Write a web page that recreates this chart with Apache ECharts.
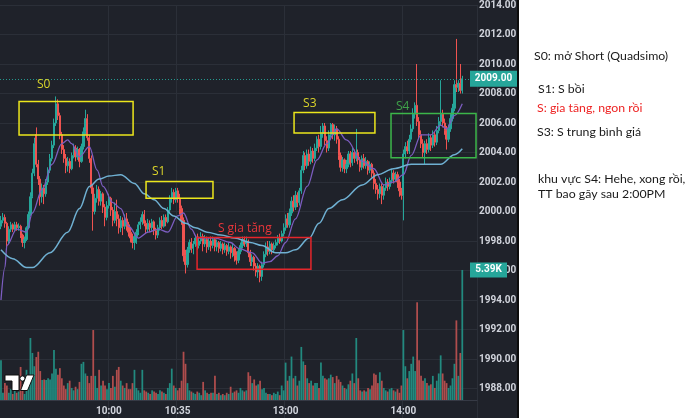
<!DOCTYPE html>
<html><head><meta charset="utf-8">
<script src="https://cdn.jsdelivr.net/npm/echarts/dist/echarts.min.js"></script>
<style>html,body{margin:0;padding:0;background:#fff;overflow:hidden}#c{width:690px;height:418px}</style>
</head><body><div id="c"></div><script>
// ---- data (1-minute candles) ----
const opens = [
1999.0,1999.4,1999.6,1999.2,1998.0,1998.8,1999.1,1998.8,1999.1,1998.9,
1999.0,1998.4,1997.9,1998.1,1998.9,1999.8,2001.0,2002.6,2005.2,2003.2,
2002.2,2001.0,2001.6,2001.2,2002.0,2002.8,2003.6,2004.5,2006.0,2007.3,
2006.5,2005.2,2004.2,2003.6,2003.1,2003.4,2002.9,2003.8,2004.3,2003.7,
2004.2,2003.4,2004.4,2005.4,2006.3,2005.0,2003.6,2001.6,2000.0,2000.9,
2001.5,2000.7,2001.2,2000.3,1999.6,2000.4,2000.9,2000.1,1999.4,2000.0,
1999.5,1998.9,1999.4,1999.0,1999.5,1999.1,1998.6,1998.2,1997.9,1998.3,
1998.6,1999.1,1999.3,1999.8,1999.2,1998.8,1999.2,1998.9,1999.3,1998.7,
1998.4,1998.9,1999.4,1999.0,1999.6,1999.3,2000.1,2000.9,2001.3,2000.8,
2001.4,2000.9,2000.2,1999.4,1997.0,1996.4,1997.4,1997.9,1997.5,1997.8,
1998.2,1997.7,1998.0,1998.3,1997.8,1998.1,1997.6,1998.0,1997.7,1998.1,
1997.6,1997.9,1997.5,1997.8,1997.4,1997.7,1997.3,1997.6,1997.2,1997.5,
1997.0,1996.7,1997.3,1997.7,1998.1,1997.8,1998.0,1997.2,1996.6,1996.9,
1996.3,1995.9,1996.3,1995.6,1996.4,1997.1,1997.6,1997.3,1997.8,1997.4,
1997.7,1997.9,1998.2,1998.0,1998.5,1998.9,1999.5,1999.1,1999.9,2000.7,
2000.3,2001.1,2000.6,2001.4,2002.8,2003.8,2003.1,2003.9,2003.4,2004.1,
2003.6,2004.3,2004.9,2004.4,2005.3,2005.8,2004.8,2004.3,2005.2,2005.9,
2005.2,2005.6,2004.9,2003.8,2003.0,2003.5,2002.9,2003.2,2003.9,2003.3,
2004.0,2003.6,2004.0,2003.5,2003.0,2003.6,2003.1,2003.4,2002.8,2003.2,
2002.6,2001.9,2001.5,2001.2,2001.7,2001.1,2001.6,2002.0,2001.7,2002.1,
2002.6,2002.2,2002.5,2002.0,2001.4,2001.1,2003.9,2004.4,2004.1,2004.9,
2005.6,2006.6,2007.2,2006.1,2005.2,2004.6,2004.0,2004.6,2004.2,2005.0,
2004.5,2005.2,2004.7,2005.5,2006.1,2006.6,2006.0,2005.5,2004.9,2005.6,
2006.3,2007.0,2008.6,2008.4,2008.7,2008.2];
const closes = [
1999.4,1999.6,1999.2,1998.0,1998.8,1999.1,1998.8,1999.1,1998.9,1999.0,
1998.4,1997.9,1998.1,1998.9,1999.8,2001.0,2002.6,2004.6,2003.2,2002.2,
2001.0,2001.6,2001.2,2002.0,2002.8,2003.6,2004.5,2006.0,2007.3,2006.5,
2005.2,2004.2,2003.6,2003.1,2003.4,2002.9,2003.8,2004.3,2003.7,2004.2,
2003.4,2004.4,2005.4,2006.3,2005.0,2003.6,2001.6,2000.0,2000.9,2001.5,
2000.7,2001.2,2000.3,1999.6,2000.4,2000.9,2000.1,1999.4,2000.0,1999.5,
1998.9,1999.4,1999.0,1999.5,1999.1,1998.6,1998.2,1997.9,1998.3,1998.6,
1999.1,1999.3,1999.8,1999.2,1998.8,1999.2,1998.9,1999.3,1998.7,1998.4,
1998.9,1999.4,1999.0,1999.6,1999.3,2000.1,2000.9,2001.3,2000.8,2001.4,
2000.9,2000.2,1999.4,1997.0,1996.4,1997.4,1997.9,1997.5,1997.8,1998.2,
1997.7,1998.0,1998.3,1997.8,1998.1,1997.6,1998.0,1997.7,1998.1,1997.6,
1997.9,1997.5,1997.8,1997.4,1997.7,1997.3,1997.6,1997.2,1997.5,1997.0,
1996.7,1997.3,1997.7,1998.1,1997.8,1998.0,1997.2,1996.6,1996.9,1996.3,
1995.9,1996.3,1995.6,1996.4,1997.1,1997.6,1997.3,1997.8,1997.4,1997.7,
1997.9,1998.2,1998.0,1998.5,1998.9,1999.5,1999.1,1999.9,2000.7,2000.3,
2001.1,2000.6,2001.4,2002.8,2003.8,2003.1,2003.9,2003.4,2004.1,2003.6,
2004.3,2004.9,2004.4,2005.3,2005.8,2004.8,2004.3,2005.2,2005.9,2005.2,
2005.6,2004.9,2003.8,2003.0,2003.5,2002.9,2003.2,2003.9,2003.3,2004.0,
2003.6,2004.0,2003.5,2003.0,2003.6,2003.1,2003.4,2002.8,2003.2,2002.6,
2001.9,2001.5,2001.2,2001.7,2001.1,2001.6,2002.0,2001.7,2002.1,2002.6,
2002.2,2002.5,2002.0,2001.4,2001.1,2003.9,2004.4,2004.1,2004.9,2005.6,
2006.6,2007.2,2006.1,2005.2,2004.6,2004.0,2004.6,2004.2,2005.0,2004.5,
2005.2,2004.7,2005.5,2006.1,2006.6,2006.0,2005.5,2004.9,2005.6,2006.3,
2007.0,2008.6,2008.4,2008.7,2008.2,2009.0];
const lows = [
1998.8,1999.2,1998.9,1997.5,1997.8,1998.6,1998.6,1998.7,1998.7,1998.7,
1998.2,1997.6,1997.5,1998.0,1998.8,1999.7,2000.9,2002.4,2003.0,2001.8,
2000.4,2000.6,2000.5,2001.0,2001.8,2002.6,2003.4,2004.3,2005.8,2006.2,
2004.9,2003.9,2003.3,2002.6,2002.7,2002.6,2002.8,2003.6,2003.4,2003.5,
2003.0,2003.3,2004.2,2005.2,2004.8,2003.3,2001.2,1998.7,1999.8,2000.6,
2000.4,2000.4,1999.9,1999.0,1999.4,2000.2,1999.7,1999.0,1999.2,1999.0,
1998.5,1998.6,1998.4,1998.8,1998.7,1998.3,1997.9,1997.5,1997.4,1997.8,
1998.4,1998.8,1999.1,1999.0,1998.5,1998.6,1998.6,1998.7,1998.4,1998.1,
1998.2,1998.7,1998.8,1998.9,1999.0,1999.2,1999.9,2000.6,2000.5,2000.6,
2000.6,1999.8,1999.1,1996.6,1995.8,1996.2,1997.2,1997.2,1997.1,1997.6,
1997.4,1997.5,1997.8,1997.3,1997.6,1997.2,1997.4,1997.3,1997.5,1997.3,
1997.3,1997.2,1997.3,1997.1,1997.2,1997.0,1997.1,1996.8,1996.9,1996.6,
1996.4,1996.5,1997.1,1997.5,1997.6,1997.6,1996.9,1996.3,1996.3,1996.0,
1995.6,1995.5,1995.2,1995.3,1996.2,1996.9,1997.0,1997.1,1997.1,1997.2,
1997.5,1997.7,1997.8,1997.9,1998.3,1998.7,1998.9,1998.9,1999.7,2000.0,
2000.1,2000.3,2000.4,2001.2,2002.6,2002.8,2002.9,2003.1,2003.2,2003.3,
2003.4,2004.1,2004.0,2004.2,2005.0,2004.5,2004.0,2004.1,2005.0,2004.9,
2004.8,2004.6,2003.5,2002.7,2002.7,2002.6,2002.6,2003.0,2003.0,2003.1,
2003.3,2003.4,2003.2,2002.7,2002.8,2002.9,2002.9,2002.5,2002.6,2002.3,
2001.5,2001.2,2000.8,2000.9,2000.5,2000.8,2001.4,2001.4,2001.5,2001.9,
2001.9,2002.0,2001.6,2001.0,2000.8,1999.4,2003.6,2003.9,2003.9,2004.7,
2005.4,2006.3,2005.8,2004.9,2004.3,2003.7,2003.2,2003.9,2004.0,2004.1,
2004.3,2004.4,2004.5,2005.3,2005.8,2005.7,2005.2,2004.2,2004.7,2005.4,
2006.1,2006.8,2008.1,2008.1,2008.0,2008.0];
const highs = [
1999.7,1999.9,1999.8,1999.3,1999.0,1999.3,1999.2,1999.3,1999.3,1999.2,
1999.1,1998.5,1998.3,1999.0,2000.0,2001.3,2002.9,2005.0,2005.7,2003.5,
2002.4,2001.9,2001.8,2002.2,2003.0,2003.9,2004.8,2006.3,2007.8,2007.6,
2006.7,2005.4,2004.5,2003.9,2003.7,2003.6,2004.0,2004.6,2004.5,2004.4,
2004.3,2004.6,2005.7,2006.9,2006.6,2005.2,2003.8,2001.8,2001.2,2001.8,
2001.7,2001.4,2001.3,2000.5,2000.7,2001.2,2001.0,2000.3,2000.6,2000.8,
1999.8,1999.7,1999.6,1999.8,1999.9,1999.3,1998.9,1998.5,1998.5,1998.8,
1999.3,1999.6,2000.0,2000.1,1999.4,1999.5,1999.4,1999.5,1999.4,1998.9,
1999.1,1999.6,1999.7,1999.8,1999.8,2000.3,2001.1,2001.6,2001.5,2001.6,
2001.6,2001.2,2000.4,1999.6,1997.4,1997.6,1998.1,1998.2,1998.0,1998.4,
1998.5,1998.3,1998.6,1998.5,1998.4,1998.3,1998.2,1998.3,1998.3,1998.2,
1998.1,1998.0,1998.0,1997.9,1997.9,1997.8,1997.9,1997.7,1997.8,1997.6,
1997.3,1997.5,1997.9,1998.3,1998.3,1998.3,1998.1,1997.4,1997.1,1997.0,
1996.5,1996.5,1996.4,1996.6,1997.3,1997.9,1998.0,1998.0,1997.9,1997.9,
1998.1,1998.4,1998.5,1998.7,1999.2,1999.8,1999.9,2000.2,2001.0,2001.1,
2001.4,2001.3,2001.6,2003.1,2004.1,2004.0,2004.2,2004.2,2004.4,2004.3,
2004.6,2005.1,2005.2,2005.8,2006.0,2006.0,2005.1,2005.5,2006.0,2006.0,
2005.9,2005.8,2005.1,2004.0,2003.7,2003.6,2003.5,2004.1,2004.1,2004.3,
2004.2,2005.6,2004.2,2003.7,2003.8,2003.9,2003.7,2003.5,2003.4,2003.3,
2002.8,2002.2,2001.8,2001.9,2001.9,2001.8,2002.3,2002.2,2002.3,2002.9,
2002.8,2002.7,2002.7,2002.2,2001.6,2004.2,2004.7,2004.8,2005.2,2005.9,
2007.0,2007.4,2010.0,2006.4,2005.5,2004.9,2004.8,2004.9,2005.3,2005.2,
2005.5,2005.4,2005.8,2006.4,2008.9,2006.9,2006.3,2005.8,2005.9,2006.6,
2007.3,2008.9,2011.7,2008.9,2010.0,2009.2];
const volumes = [
1650,300,700,600,300,450,250,400,300,350,
1370,420,250,1250,900,2570,1950,1400,1780,2000,
1200,830,850,830,900,850,1100,2070,1300,1050,
1320,900,600,450,700,800,500,400,550,450,
750,1500,1580,1100,1000,700,1000,2900,1000,500,
1250,600,800,600,450,700,500,1000,550,1250,
1370,800,600,500,700,450,450,700,1250,500,
400,300,1250,400,350,300,250,400,350,300,
250,400,350,300,250,500,700,1300,600,500,
400,500,800,2000,1500,700,400,350,300,250,
350,300,200,750,400,300,250,300,300,1000,
250,300,200,250,200,300,250,550,300,350,
400,300,500,400,350,400,1150,1000,700,850,
600,650,800,450,500,300,250,250,200,300,
250,350,200,600,400,1550,800,1000,1800,900,
1000,600,800,2200,1600,1450,900,700,800,600,
700,700,500,1550,1000,900,850,900,1050,950,
700,1000,850,750,600,500,450,650,800,1100,
700,2570,900,400,350,400,350,500,450,600,
1100,1050,700,1150,800,500,400,350,450,500,
400,350,450,300,600,2900,1400,900,1200,1500,
1800,1200,4050,1650,1000,800,900,700,600,650,
1000,500,800,1100,1850,1100,800,700,500,600,
900,1500,3300,1000,1950,5390];
// moving averages read at sample candles (index, value)
const maFastIdx = [0,2,3,8,13,16,21,26,31,34,36,40,45,49,52,57,61,65,70,75,80,85,90,93,97,100,109,117,121,128,133,137,141,145,150,156,161,166,171,176,184,190,195,200,205,209,214,219,224,227,231,235];
const maFastVal = [1994.0,1996.2,1997.7,1998.8,1998.6,1999.9,2001.5,2003.2,2004.6,2004.85,2004.6,2003.7,2004.4,2002.8,2001.7,2000.6,2000.2,1999.0,1998.2,1998.6,1998.8,1998.6,1999.7,1999.9,1998.8,1998.2,1998.2,1997.9,1997.5,1997.2,1996.5,1996.6,1997.0,1997.9,1999.5,2001.7,2003.5,2004.6,2005.6,2004.85,2003.4,2002.9,2001.8,2002.0,2002.5,2003.8,2005.2,2005.2,2005.85,2005.6,2006.5,2007.3];
const maSlowIdx = [0,6,13,16,25,34,40,45,50,55,61,68,73,78,83,88,94,99,105,112,119,127,133,140,145,150,157,162,167,174,184,192,200,209,217,224,231,235];
const maSlowVal = [1997.4,1996.8,1996.2,1996.2,1997.2,1998.6,2000.2,2001.7,2002.2,2002.4,2002.5,2001.9,2001.2,2000.8,2000.2,1999.7,1999.2,1998.9,1998.6,1998.4,1998.2,1997.9,1997.7,1997.2,1997.2,1997.4,1998.2,1999.2,2000.2,2000.8,2001.8,2002.5,2002.9,2003.2,2003.2,2003.2,2003.85,2004.25];
const tickLabels = ['10:00','10:35','13:00','14:00'];
const lastPrice = 2009.00;
const lastVolumeLabel = '5.39K';
const notes = ['S0: mở Short (Quadsimo)','S1: S bồi','S: gia tăng, ngon rồi','S3: S trung bình giá','khu vực S4: Hehe, xong rồi,','TT bao gãy sau 2:00PM'];

// ---- categories: morning session from 9:05, afternoon from 13:00 ----
const SLOTS = 243;
const categories = [];
for (let i = 0; i < SLOTS; i++) {
  let h, m;
  if (i < 145) { const t = 5 + i; h = 9 + Math.floor(t / 60); m = t % 60; }
  else { const t = i - 145; h = 13 + Math.floor(t / 60); m = t % 60; }
  categories.push(h + ':' + String(m).padStart(2, '0'));
}

// ---- styles ----
const BG = '#1f222a', GRID = '#2b2f38', TXT = '#d1d4dc';
const UP = '#26a69a', DN = '#ef5350', VUP = '#228a7f', VDN = '#b04d4d';

const candleData = opens.map((o, i) => [o, closes[i], lows[i], highs[i]]);
const volData = volumes.map((v, i) => ({ value: v, itemStyle: { color: closes[i] >= opens[i] ? VUP : VDN } }));
const showTick = (idx, val) => tickLabels.indexOf(val) >= 0;

const chart = echarts.init(document.getElementById('c'), null, { renderer: 'canvas' });
const option = {
  animation: false,
  backgroundColor: BG,
  grid: [
    { left: 0, top: 1, width: 477, height: 419.4 },
    { left: 0, top: 262, width: 477, height: 138 }
  ],
  xAxis: [
    { type: 'category', gridIndex: 0, data: categories, boundaryGap: true,
      axisLine: { show: false }, axisTick: { show: false }, axisLabel: { show: false },
      splitLine: { show: true, interval: showTick, lineStyle: { color: GRID, width: 1 } } },
    { type: 'category', gridIndex: 1, data: categories, boundaryGap: true,
      axisLine: { show: true, lineStyle: { color: '#363a45' } }, axisTick: { show: false },
      axisLabel: { interval: showTick, color: TXT, fontSize: 10, fontWeight: 'bold', fontFamily: 'Roboto', margin: 6 },
      splitLine: { show: false } }
  ],
  yAxis: [
    { type: 'value', gridIndex: 0, position: 'right', min: 1986, max: 2014, interval: 2, scale: true,
      axisLine: { show: false }, axisTick: { show: false },
      axisLabel: { color: TXT, fontSize: 10, fontWeight: 'bold', fontFamily: 'Roboto', margin: 2,
        formatter: v => (v > 1987 && Math.abs(v / 2 - Math.round(v / 2)) < 1e-6 ? v.toFixed(2) : '') },
      splitLine: { show: true, lineStyle: { color: GRID, width: 1 } } },
    { type: 'value', gridIndex: 1, min: 0, max: 5720, show: false, splitLine: { show: false } }
  ],
  series: [
    { type: 'candlestick', xAxisIndex: 0, yAxisIndex: 0, data: candleData, barWidth: '85%',
      itemStyle: { color: UP, color0: DN, borderColor: UP, borderColor0: DN, borderWidth: 1 },
      markLine: { silent: true, symbol: ['none', 'none'], label: { show: false },
        lineStyle: { color: UP, type: [1, 2], width: 1, opacity: 0.9 },
        data: [{ yAxis: lastPrice }] } },
    { type: 'line', xAxisIndex: 0, yAxisIndex: 0, data: maFastIdx.map((x, k) => [x, maFastVal[k]]),
      showSymbol: false, smooth: 0.35, smoothMonotone: 'x', lineStyle: { color: '#7c5dc0', width: 1.3 }, z: 3 },
    { type: 'line', xAxisIndex: 0, yAxisIndex: 0, data: maSlowIdx.map((x, k) => [x, maSlowVal[k]]),
      showSymbol: false, smooth: 0.35, smoothMonotone: 'x', lineStyle: { color: '#6fb0d2', width: 1.5 }, z: 3 },
    { type: 'bar', xAxisIndex: 1, yAxisIndex: 1, data: volData, barWidth: '90%', z: 1 }
  ]
};
chart.setOption(option);

// ---- annotations anchored in data coordinates ----
const A0 = chart.convertToPixel({ seriesIndex: 0 }, [0, 2000]);
const A1 = chart.convertToPixel({ seriesIndex: 0 }, [100, 2000]);
const xAt = i => A0[0] + (A1[0] - A0[0]) * i / 100;
const yAt = p => chart.convertToPixel({ seriesIndex: 0 }, [0, p])[1];
const volY = chart.convertToPixel({ seriesIndex: 3 }, [235, 5390])[1];

const annoBoxes = [
  { i0: 9.2, i1: 67.3, pTop: 2007.45, pBot: 2005.18, stroke: '#ece61c', text: 'S0', tc: '#dcd52a', li: 18.3, lp: 2008.59 },
  { i0: 73.9, i1: 108.0, pTop: 2002.04, pBot: 2000.90, stroke: '#ece61c', text: 'S1', tc: '#dcd52a', li: 76.9, lp: 2002.71 },
  { i0: 99.9, i1: 157.9, pTop: 1998.23, pBot: 1996.09, stroke: '#e5262b', text: 'S gia tăng', tc: '#e8353a', li: 110.5, lp: 1998.83 },
  { i0: 149.3, i1: 190.5, pTop: 2006.72, pBot: 2005.32, stroke: '#ece61c', text: 'S3', tc: '#dcd52a', li: 153.9, lp: 2007.32 },
  { i0: 198.7, i1: 242.0, pTop: 2006.65, pBot: 2003.64, stroke: '#3cb64a', text: 'S4', tc: '#3fa14a', li: 201.2, lp: 2007.12 }
];
const g = [];
annoBoxes.forEach(b => {
  const x0 = xAt(b.i0), x1 = xAt(b.i1), y0 = yAt(b.pTop), y1 = yAt(b.pBot);
  g.push({ type: 'rect', z: 100, shape: { x: x0, y: y0, width: x1 - x0, height: y1 - y0 },
    style: { fill: 'none', stroke: b.stroke, lineWidth: 1.5 } });
  g.push({ type: 'text', z: 100, x: xAt(b.li), y: yAt(b.lp),
    style: { text: b.text, fill: b.tc, font: '12px "Open Sans"', align: 'left', verticalAlign: 'middle' } });
});
// last price label
const ly = yAt(lastPrice);
g.push({ type: 'rect', z: 110, shape: { x: 470, y: ly - 8, width: 47, height: 16 }, style: { fill: UP } });
g.push({ type: 'text', z: 111, x: 493.5, y: ly, style: { text: lastPrice.toFixed(2), fill: '#fff', font: 'bold 10px Roboto', align: 'center', verticalAlign: 'middle' } });
// last volume label
g.push({ type: 'rect', z: 110, shape: { x: 470, y: volY - 7.5, width: 37, height: 15 }, style: { fill: UP } });
g.push({ type: 'text', z: 111, x: 488.5, y: volY, style: { text: lastVolumeLabel, fill: '#fff', font: 'bold 10px Roboto', align: 'center', verticalAlign: 'middle' } });
// TradingView logo
g.push({ type: 'polygon', z: 100, shape: { points: [[5, 375], [19, 375], [19, 390.5], [12, 390.5], [12, 381], [5, 381]] }, style: { fill: '#fff', stroke: '#111', lineWidth: 1 } });
g.push({ type: 'circle', z: 100, shape: { cx: 22.5, cy: 378.5, r: 2.6 }, style: { fill: '#fff', stroke: '#111', lineWidth: 1 } });
g.push({ type: 'polygon', z: 100, shape: { points: [[26.5, 375], [34, 375], [27.5, 390.5], [20.5, 390.5]] }, style: { fill: '#fff', stroke: '#111', lineWidth: 1 } });
// right note panel
g.push({ type: 'rect', z: 120, shape: { x: 519, y: 0, width: 171, height: 418 }, style: { fill: '#ffffff' } });
g.push({ type: 'rect', z: 120, shape: { x: 517, y: 0, width: 2, height: 418 }, style: { fill: '#0d0d0d' } });
const notePos = [[534, 56], [538, 89.5], [537, 108.5], [537, 132], [538, 179], [538, 194.5]];
notes.forEach((t, k) => {
  g.push({ type: 'text', z: 121, x: notePos[k][0], y: notePos[k][1],
    style: { text: t, fill: k === 2 ? '#ee2424' : '#1a1a1a', font: '12.3px Lato', align: 'left', verticalAlign: 'middle' } });
});
chart.setOption({ graphic: { elements: g } });
</script></body></html>
